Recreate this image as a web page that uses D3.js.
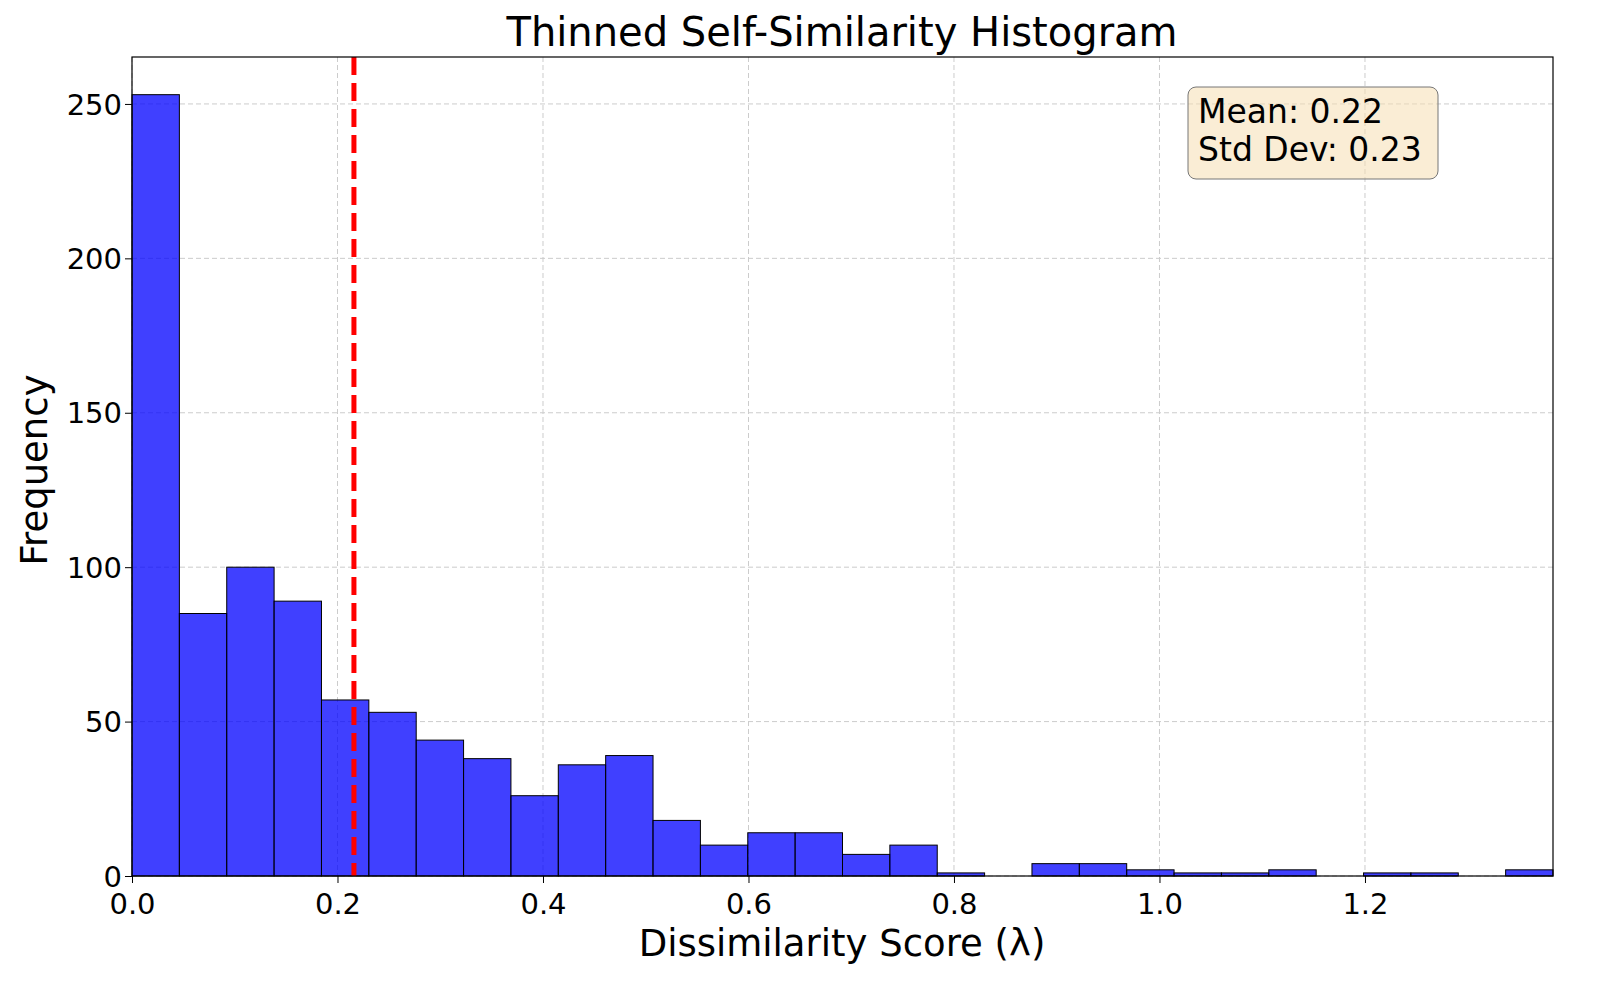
<!DOCTYPE html>
<html><head><meta charset="utf-8">
<script src="https://cdn.jsdelivr.net/npm/d3@7"></script>
<style>body{margin:0;background:#fff}text{font-family:"DejaVu Sans",sans-serif}</style>
</head><body><svg id="c" width="1600" height="1000"></svg>
<script>
const counts=[253,85,100,89,57,53,44,38,26,36,39,18,10,14,14,7,10,1,0,4,4,2,1,1,2,0,1,1,0,2];
const xMax=1.383, meanVal=0.216;
const xTicks=[0,0.2,0.4,0.6,0.8,1.0,1.2];
const yTicks=[0,50,100,150,200,250];
const statLines=["Mean: 0.22","Std Dev: 0.23"];
const svg=d3.select("#c");
const L=132,R=1553,T=57,B=876;
const x=d3.scaleLinear().domain([0,xMax]).range([L,R]);
const y=d3.scaleLinear().domain([0,265.2]).range([B,T]);
const bw=xMax/counts.length;
const g=svg.append("g");
xTicks.forEach(t=>g.append("line").attr("x1",x(t)).attr("x2",x(t)).attr("y1",T).attr("y2",B).attr("stroke","#ccc").attr("stroke-dasharray","5,3"));
yTicks.forEach(t=>g.append("line").attr("x1",L).attr("x2",R).attr("y1",y(t)).attr("y2",y(t)).attr("stroke","#ccc").attr("stroke-dasharray","5,3"));
g.selectAll("rect.b").data(counts).enter().append("rect").attr("class","b")
 .attr("x",(d,i)=>x(i*bw)).attr("width",(d,i)=>x((i+1)*bw)-x(i*bw))
 .attr("y",d=>y(d)).attr("height",d=>B-y(d))
 .attr("fill","rgba(0,0,255,0.75)").attr("stroke","#000").attr("stroke-width",1);
g.append("line").attr("x1",x(meanVal)).attr("x2",x(meanVal)).attr("y1",T).attr("y2",B)
 .attr("stroke","red").attr("stroke-width",5).attr("stroke-dasharray","18,8");
g.append("rect").attr("x",L).attr("y",T).attr("width",R-L).attr("height",B-T).attr("fill","none").attr("stroke","#000").attr("stroke-width",1.2);
const xa=svg.append("g").attr("transform",`translate(0,${B})`).call(d3.axisBottom(x).tickValues(xTicks).tickFormat(d3.format(".1f")).tickSize(7).tickSizeOuter(0));
const ya=svg.append("g").attr("transform",`translate(${L},0)`).call(d3.axisLeft(y).tickValues(yTicks).tickSize(7).tickSizeOuter(0));
[xa,ya].forEach(a=>{a.select(".domain").remove();a.selectAll("text").attr("font-size",29).attr("fill","#000").style("font-family","DejaVu Sans");});
xa.selectAll("text").attr("dy","0.95em");
ya.selectAll("text").attr("dy","0.35em");
svg.append("text").attr("x",842).attr("y",46).attr("text-anchor","middle").attr("font-size",40).text("Thinned Self-Similarity Histogram");
svg.append("text").attr("x",842).attr("y",956).attr("text-anchor","middle").attr("font-size",37).text("Dissimilarity Score (λ)");
svg.append("text").attr("transform","translate(47,470) rotate(-90)").attr("text-anchor","middle").attr("font-size",37).text("Frequency");
svg.append("rect").attr("x",1188).attr("y",87).attr("width",250).attr("height",92).attr("rx",8).attr("fill","#f5deb3").attr("fill-opacity",0.55).attr("stroke","#777");
statLines.forEach((s,i)=>svg.append("text").attr("x",1198).attr("y",123+i*38).attr("font-size",33).text(s));
</script></body></html>
